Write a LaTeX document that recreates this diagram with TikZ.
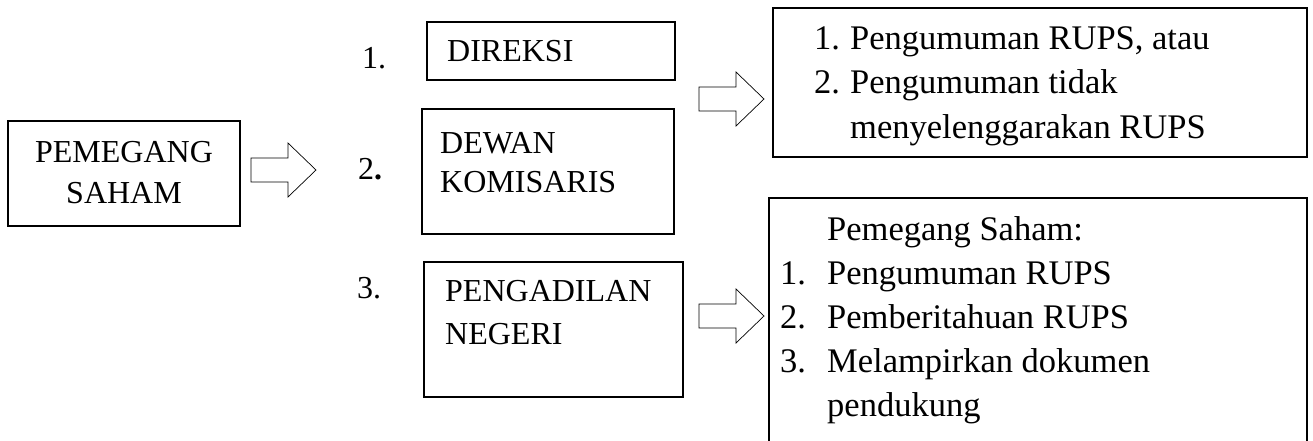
\documentclass[tikz,border=0pt]{standalone}
\usepackage{fontspec}
\setmainfont{Liberation Serif}
\begin{document}
\begin{tikzpicture}[x=1pt,y=-1pt,
  box/.style={draw, line width=1.1pt, rectangle, inner sep=0pt},
  txt/.style={anchor=base west, inner sep=0pt, font=\fontsize{32}{40}\selectfont},
  rtxt/.style={anchor=base west, inner sep=0pt, font=\fontsize{34.5}{44}\selectfont},
  ctxt/.style={anchor=base, inner sep=0pt, font=\fontsize{32}{40}\selectfont},
  blk/.style={draw, line width=0.7pt, line join=miter}]
\useasboundingbox (0,0) rectangle (1313,441);
% boxes
\node[box, minimum width=232pt, minimum height=105pt] (ps) at (124,173.5) {};
\node[box, minimum width=248pt, minimum height=58pt] (dir) at (551,51) {};
\node[box, minimum width=252pt, minimum height=125pt] (dew) at (548,171.5) {};
\node[box, minimum width=259pt, minimum height=135pt] (pn) at (553.5,329.5) {};
\node[box, minimum width=534pt, minimum height=149pt] (tr) at (1040,82.5) {};
\coordinate (brA) at (769,441);
\coordinate (brB) at (769,198);
\coordinate (brC) at (1307,198);
\coordinate (brD) at (1307,441);
\draw[line width=1.1pt] (brA) -- (brB) -- (brC) -- (brD);
% block arrows
\coordinate (a1) at (251,170);
\coordinate (a2) at (699,99);
\coordinate (a3) at (699,316);
\foreach \a in {a1,a2,a3}{
  \draw[blk] (\a) ++(0,-12) -- ++(37,0) -- ++(0,-15) -- ++(28,27) -- ++(-28,27) -- ++(0,-15) -- ++(-37,0) -- cycle;
}
% texts
\node[ctxt] (t1) at (124,162) {PEMEGANG};
\node[ctxt] (t2) at (124,203) {SAHAM};
\node[txt] (n1) at (362,69) {1.};
\node[txt] (t3) at (447,62) {DIREKSI};
\node[txt] (n2) at (358,179) {2\textbf{.}};
\node[txt] (t4) at (440,153) {DEWAN};
\node[txt] (t5) at (440,192) {KOMISARIS};
\node[txt] (n3) at (357,298) {3.};
\node[txt] (t6) at (445,301) {PENGADILAN};
\node[txt] (t7) at (445,344) {NEGERI};
% top right list
\node[rtxt] (r1n) at (814,50) {1.};
\node[rtxt] (r1) at (850,50) {Pengumuman RUPS, atau};
\node[rtxt] (r2n) at (814,94) {2.};
\node[rtxt] (r2) at (850,94) {Pengumuman tidak};
\node[rtxt] (r3) at (850,138) {menyelenggarakan RUPS};
% bottom right list
\node[rtxt] (s0) at (827,240) {Pemegang Saham:};
\node[rtxt] (s1n) at (780,284) {1.};
\node[rtxt] (s1) at (827,284) {Pengumuman RUPS};
\node[rtxt] (s2n) at (780,328) {2.};
\node[rtxt] (s2) at (827,328) {Pemberitahuan RUPS};
\node[rtxt] (s3n) at (780,372) {3.};
\node[rtxt] (s3) at (827,372) {Melampirkan dokumen};
\node[rtxt] (s4) at (827,416) {pendukung};
\end{tikzpicture}
\end{document}
